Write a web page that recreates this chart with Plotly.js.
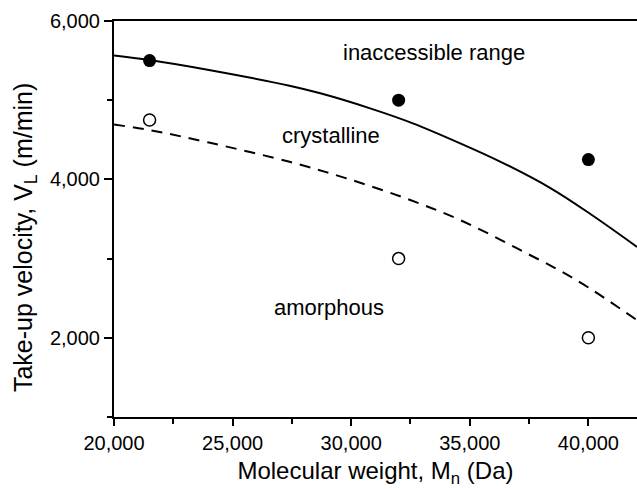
<!DOCTYPE html>
<html>
<head>
<meta charset="utf-8">
<script src="https://cdn.plot.ly/plotly-3.0.1.min.js"></script>
<style>html,body{margin:0;padding:0;background:#fff;}#chart{width:637px;height:489px;}</style>
</head>
<body>
<div id="chart"></div>
<script>
// Measured data points
const crystX = [21500, 32000, 40000];
const crystY = [5500, 5000, 4250];
const amorphX = [21500, 32000, 40000];
const amorphY = [4750, 3000, 2000];

// Upper boundary (solid curve)
const solidX = [20000, 21500, 24000, 27400, 28700, 30800, 32600, 34600, 36300, 38400, 40100, 42050];
const solidY = [5564, 5507, 5381, 5183, 5087, 4897, 4708, 4455, 4222, 3890, 3560, 3148];

// Lower boundary (dashed curve)
const dashX = [20000, 21500, 24000, 27400, 29800, 32300, 34600, 37000, 39500, 42050];
const dashY = [4692, 4623, 4465, 4222, 4013, 3761, 3486, 3128, 2728, 2222];

// Region labels
const labelText = ["inaccessible range", "crystalline", "amorphous"];
const labelX = [33480, 29150, 29060];
const labelY = [5608, 4560, 2387];

const FONT = "Liberation Sans, Arial, sans-serif";

const traces = [
  {x: solidX, y: solidY, mode: "lines", line: {color: "#000", width: 2, shape: "spline"}, hoverinfo: "skip"},
  {x: dashX, y: dashY, mode: "lines", line: {color: "#000", width: 2, dash: "11px,8px", shape: "spline"}, hoverinfo: "skip"},
  {x: crystX, y: crystY, mode: "markers", marker: {symbol: "circle", size: 13, color: "#000"}},
  {x: amorphX, y: amorphY, mode: "markers", marker: {symbol: "circle-open", size: 12, color: "#000", line: {width: 1.5, color: "#000"}}}
];

const annotations = labelText.map((t, i) => ({
  x: labelX[i], y: labelY[i], xref: "x", yref: "y", text: t, showarrow: false,
  font: {family: FONT, size: 22, color: "#000"}
}));
annotations.push({
  x: -0.170, y: 0.452, xref: "paper", yref: "paper", xanchor: "center", yanchor: "middle",
  text: "Take-up velocity, V<sub>L</sub> (m/min)", textangle: -90, showarrow: false,
  font: {family: FONT, size: 25, color: "#000"}
});

const layout = {
  width: 637, height: 489,
  margin: {l: 114, r: 0, t: 21, b: 72},
  paper_bgcolor: "#fff", plot_bgcolor: "#fff",
  showlegend: false,
  font: {family: FONT, color: "#000"},
  xaxis: {
    range: [20000, 42050], tickmode: "linear", tick0: 20000, dtick: 5000,
    tickformat: ",d", ticks: "outside", ticklen: 7, tickwidth: 2, tickcolor: "#000",
    minor: {dtick: 2500, ticks: "outside", ticklen: 5, tickwidth: 2, tickcolor: "#000", showgrid: false},
    showline: true, linewidth: 2, linecolor: "#000", mirror: true, showgrid: false, zeroline: false,
    tickfont: {family: FONT, size: 20, color: "#000"},
    title: {text: "Molecular weight, M<sub>n</sub> (Da)", font: {family: FONT, size: 24, color: "#000"}, standoff: 9}
  },
  yaxis: {
    range: [1000, 6000], tickmode: "linear", tick0: 0, dtick: 2000,
    tickformat: ",d", ticks: "outside", ticklen: 8, tickwidth: 2, tickcolor: "#000",
    minor: {dtick: 1000, ticks: "outside", ticklen: 5, tickwidth: 2, tickcolor: "#000", showgrid: false},
    showline: true, linewidth: 2, linecolor: "#000", showgrid: false, zeroline: false,
    tickfont: {family: FONT, size: 20, color: "#000"}
  },
  annotations: annotations
};

Plotly.newPlot("chart", traces, layout, {displayModeBar: false, staticPlot: true});
</script>
</body>
</html>
